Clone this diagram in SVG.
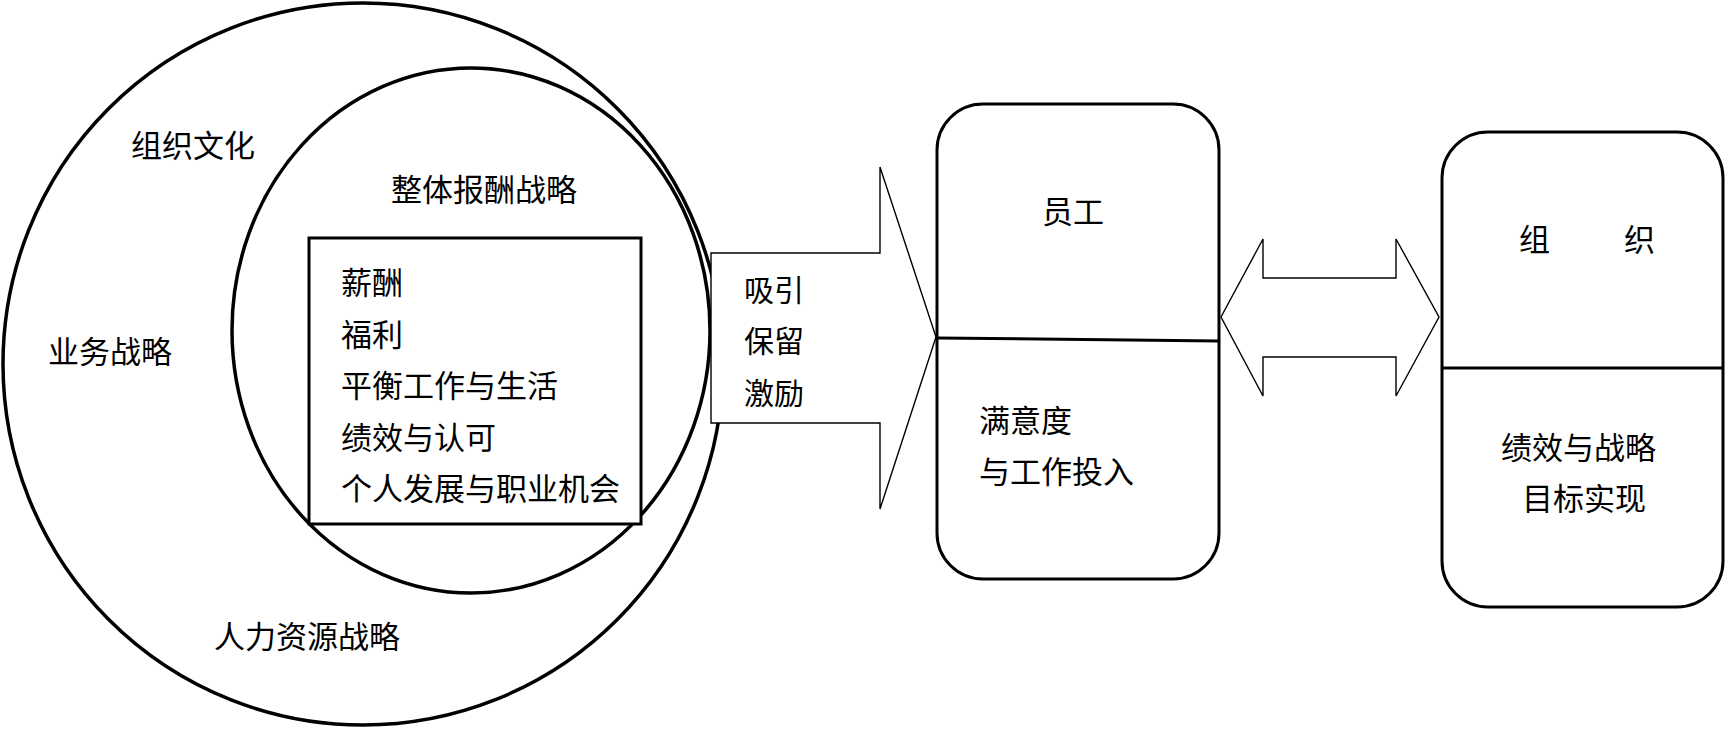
<svg xmlns="http://www.w3.org/2000/svg" width="1726" height="729" viewBox="0 0 1726 729">
<style>
.t{font-family:"Noto Sans CJK SC","Noto Sans CJK JP",sans-serif;font-size:31px;fill:#000}
.s{font-size:30px}
.ring{fill:none;stroke:#000;stroke-width:3.5}
.box{fill:#fff;stroke:#000;stroke-width:3}
.div{stroke:#000;stroke-width:3;fill:none}
.arr{fill:#fff;stroke:#000;stroke-width:1.4;stroke-linejoin:miter}
</style>
<rect width="1726" height="729" fill="#fff"/>
<g id="outer-circle">
<ellipse class="ring" cx="363" cy="364" rx="360" ry="361"/>
<text class="t" x="131" y="157">组织文化</text>
<text class="t" x="48" y="363">业务战略</text>
<text class="t" x="214" y="648">人力资源战略</text>
</g>
<g id="inner-circle">
<ellipse class="ring" cx="471" cy="330.5" rx="239" ry="262.5"/>
<text class="t" x="391" y="201">整体报酬战略</text>
</g>
<g id="reward-box">
<rect class="box" x="309" y="238" width="332" height="286"/>
<text class="t" x="341" y="294">薪酬</text>
<text class="t" x="341" y="345.5">福利</text>
<text class="t" x="341" y="397">平衡工作与生活</text>
<text class="t" x="341" y="448.5">绩效与认可</text>
<text class="t" x="341" y="500">个人发展与职业机会</text>
</g>
<g id="connectors">
<g id="arrow-main">
<polygon class="arr" points="711,253 880,253 880,167 936,337 880,509 880,423 711,423"/>
<text class="t s" x="744" y="301">吸引</text>
<text class="t s" x="744" y="352">保留</text>
<text class="t s" x="744" y="403.5">激励</text>
</g>
<polygon id="arrow-double" class="arr" points="1221,317 1263,239 1263,278 1396,278 1396,239 1439,317 1396,396 1396,357 1263,357 1263,396"/>
</g>
<g id="employee">
<rect class="box" x="937" y="104" width="282" height="475" rx="46" ry="46"/>
<line class="div" x1="937" y1="338" x2="1219" y2="341"/>
<text class="t" x="1042" y="223">员工</text>
<text class="t" x="979" y="432">满意度</text>
<text class="t" x="979" y="483">与工作投入</text>
</g>
<g id="organization">
<rect class="box" x="1442" y="132" width="281" height="475" rx="46" ry="46"/>
<line class="div" x1="1442" y1="368" x2="1723" y2="368"/>
<text class="t" y="251"><tspan x="1519">组</tspan><tspan x="1624">织</tspan></text>
<text class="t" x="1501" y="459">绩效与战略</text>
<text class="t" x="1522" y="510">目标实现</text>
</g>
</svg>
